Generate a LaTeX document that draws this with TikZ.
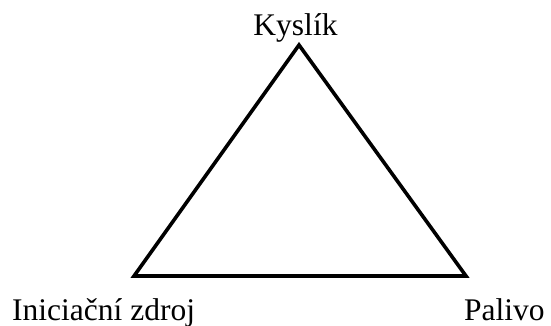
\documentclass[tikz,border=0pt]{standalone}
\usepackage{fontspec}
\setmainfont{Liberation Serif}
\begin{document}
\begin{tikzpicture}[x=1pt,y=1pt,
  lbl/.style={inner sep=0pt,font=\fontsize{31.5}{36}\selectfont},
  edge/.style={line width=3.6pt,line join=miter}]
\useasboundingbox (0,0) rectangle (551,325);
\coordinate (top) at (299,280);
\coordinate (bl) at (134,49);
\coordinate (br) at (466,49);
\draw[edge] (top) -- (bl) -- (br) -- cycle;
\node[lbl,anchor=base] (k) at (295.5,290) {Kyslík};
\node[lbl,anchor=base west] (i) at (12,5) {Iniciační zdroj};
\node[lbl,anchor=base west] (p) at (464,5) {Palivo};
\end{tikzpicture}
\end{document}
